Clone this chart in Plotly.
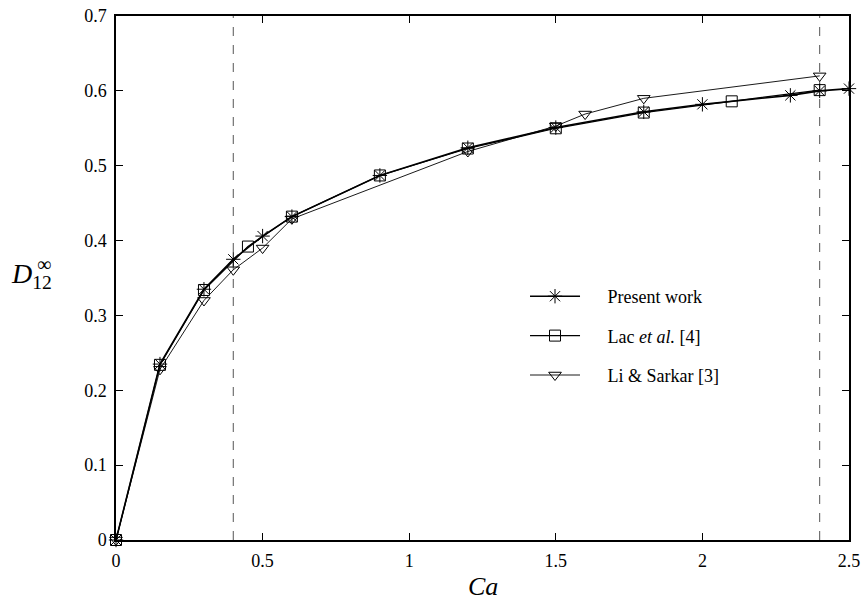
import plotly.graph_objects as go

# Data
ca_present = [0, 0.15, 0.3, 0.4, 0.5, 0.6, 0.9, 1.2, 1.5, 1.8, 2.0, 2.3, 2.4, 2.5]
d_present = [0, 0.235, 0.335, 0.375, 0.406, 0.432, 0.487, 0.524, 0.551, 0.572, 0.582, 0.594, 0.600, 0.603]

ca_lac = [0, 0.15, 0.3, 0.45, 0.6, 0.9, 1.2, 1.5, 1.8, 2.1, 2.4]
d_lac = [0, 0.234, 0.334, 0.392, 0.432, 0.487, 0.523, 0.550, 0.571, 0.586, 0.601]

ca_li = [0, 0.15, 0.3, 0.4, 0.5, 0.6, 1.2, 1.5, 1.6, 1.8, 2.4]
d_li = [0, 0.228, 0.320, 0.361, 0.390, 0.429, 0.519, 0.553, 0.569, 0.590, 0.620]

vlines = [0.4, 2.4]
x_ticks = [0, 0.5, 1, 1.5, 2, 2.5]
x_ticklabels = ["0", "0.5", "1", "1.5", "2", "2.5"]
y_ticks = [0, 0.1, 0.2, 0.3, 0.4, 0.5, 0.6, 0.7]
y_ticklabels = ["0", "0.1", "0.2", "0.3", "0.4", "0.5", "0.6", "0.7"]

FONT = "Times New Roman, Liberation Serif, serif"
PAD = "\u00a0" * 5

fig = go.Figure()

fig.add_trace(go.Scatter(
    x=ca_li, y=d_li, mode="lines+markers", name=PAD + "Li &amp; Sarkar [3]",
    line=dict(color="black", width=0.9),
    marker=dict(symbol="triangle-down-open", size=11, color="black", line=dict(width=1)),
    cliponaxis=False, legendgroup="c", legendrank=3))
fig.add_trace(go.Scatter(
    x=ca_lac, y=d_lac, mode="lines+markers", name=PAD + "Lac <i>et al.</i> [4]",
    line=dict(color="black", width=1.2),
    marker=dict(symbol="square-open", size=11, color="black", line=dict(width=1)),
    cliponaxis=False, legendgroup="b", legendrank=2))
fig.add_trace(go.Scatter(
    x=ca_present, y=d_present, mode="lines+markers", name=PAD + "Present work",
    line=dict(color="black", width=1.6),
    marker=dict(symbol="asterisk-open", size=12, color="black", line=dict(width=1, color="black")),
    cliponaxis=False, legendgroup="a", legendrank=1))

for v in vlines:
    fig.add_vline(x=v, line=dict(color="#555555", width=1, dash="dash"), layer="below")

axis_common = dict(
    showgrid=False, zeroline=False, showline=True, linecolor="black", linewidth=1.5,
    mirror="ticks", ticks="inside", ticklen=7, tickwidth=1, tickcolor="black",
    tickfont=dict(family=FONT, size=18, color="black"), automargin=False,
)

fig.update_xaxes(range=[0, 2.5], tickvals=x_ticks, ticktext=x_ticklabels, ticklabelstandoff=4, **axis_common)
fig.update_yaxes(range=[0, 0.7], tickvals=y_ticks, ticktext=y_ticklabels, ticklabelstandoff=4, **axis_common)

fig.add_annotation(text="<i>Ca</i>", xref="paper", yref="paper", x=0.5, y=0,
                   yanchor="middle", yshift=-46, showarrow=False,
                   font=dict(family=FONT, size=26, color="black"))
fig.add_annotation(text="<i>D</i><sub>12</sub>", xref="paper", yref="paper", x=0, y=0.5,
                   xshift=-85, yshift=3, showarrow=False, xanchor="center",
                   font=dict(family=FONT, size=28, color="black"))
fig.add_annotation(text="∞", xref="paper", yref="paper", x=0, y=0.5,
                   xshift=-72, yshift=14, showarrow=False, xanchor="center",
                   font=dict(family=FONT, size=20, color="black"))

fig.update_layout(
    width=864, height=602,
    margin=dict(l=116, r=15, t=16, b=62),
    paper_bgcolor="white", plot_bgcolor="white",
    showlegend=True,
    legend=dict(x=0.558, y=0.500, xanchor="left", yanchor="top",
                font=dict(family=FONT, size=18, color="black"),
                bgcolor="rgba(0,0,0,0)", tracegroupgap=13, itemwidth=50),
    font=dict(family=FONT, color="black"),
)

fig.write_html("out.html", config={"displayModeBar": False},
               post_script="document.body.style.margin='0';document.body.style.overflow='hidden';")
